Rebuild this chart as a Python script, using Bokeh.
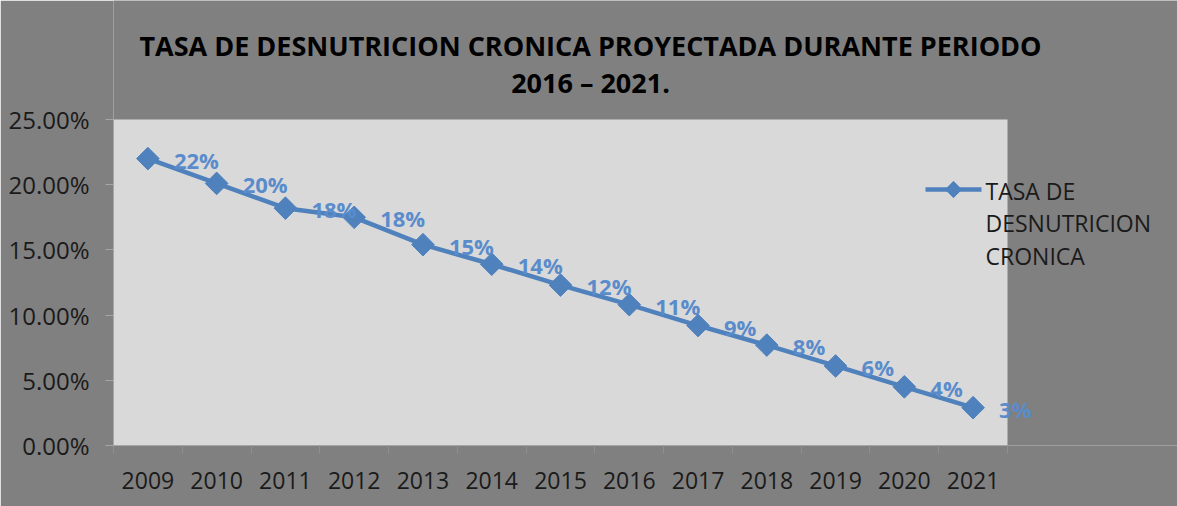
from bokeh.plotting import figure
from bokeh.models import (ColumnDataSource, Label, NumeralTickFormatter,
                          FixedTicker, Range1d, LabelSet, BoxAnnotation)
from bokeh.core.properties import value
from bokeh.embed import file_html
from bokeh.resources import INLINE
import math

years = ["2009", "2010", "2011", "2012", "2013", "2014", "2015", "2016", "2017", "2018", "2019", "2020", "2021"]
rates = [0.220, 0.201, 0.182, 0.175, 0.154, 0.139, 0.123, 0.108, 0.092, 0.077, 0.061, 0.045, 0.029]
point_labels = ["22%", "20%", "18%", "18%", "15%", "14%", "12%", "11%", "9%", "8%", "6%", "4%", "3%"]
y_ticks = [0.0, 0.05, 0.10, 0.15, 0.20, 0.25]
series_lines = ["TASA DE", "DESNUTRICION", "CRONICA"]
title_lines = ["TASA DE DESNUTRICION CRONICA PROYECTADA DURANTE PERIODO", "2016 \u2013 2021."]

BLUE = "#4f81bd"
FONT = "Open Sans"
OUTER = "#808080"
INNER = "#d9d9d9"

# layout (figure pixels)
W, H = 1177, 506
PA_LEFT, PA_RIGHT, PA_TOP, PA_BOTTOM = 113, 1007, 119, 445   # plot area box
Y_MAX = 0.25
n = len(years)
cat_px = (PA_RIGHT - PA_LEFT) / n
y_px = (PA_BOTTOM - PA_TOP) / Y_MAX

xs = list(range(n))
src = ColumnDataSource(dict(x=xs, y=rates, lab=point_labels))

x_end = -0.5 + (W - PA_LEFT) / cat_px
y_end = Y_MAX + PA_TOP / y_px

p = figure(x_range=Range1d(-0.5, x_end), y_range=Range1d(0, y_end), width=W, height=H,
           output_backend="svg", toolbar_location=None,
           min_border_left=PA_LEFT, min_border_right=0, min_border_top=0,
           min_border_bottom=H - PA_BOTTOM)
p.background_fill_color = OUTER
p.border_fill_color = OUTER
p.outline_line_color = None
p.xgrid.grid_line_color = None
p.ygrid.grid_line_color = None

# pixel ranges (frame pixels) for the legend key
p.extra_x_ranges = {"px": Range1d(0, W - PA_LEFT)}
p.extra_y_ranges = {"px": Range1d(0, PA_BOTTOM)}

p.add_layout(BoxAnnotation(left=-0.5, right=n - 0.5, bottom=0, top=Y_MAX,
                           fill_color=INNER, fill_alpha=1, line_color=None, level="underlay"))

p.yaxis.ticker = FixedTicker(ticks=y_ticks)
p.yaxis.formatter = NumeralTickFormatter(format="0.00%")
p.yaxis.bounds = (0, Y_MAX)
p.xaxis.ticker = FixedTicker(ticks=xs, minor_ticks=[i - 0.5 for i in range(n + 1)])
p.xaxis.major_label_overrides = {i: y for i, y in enumerate(years)}
p.xaxis.bounds = (-0.5, n - 0.5)
for ax in (p.xaxis, p.yaxis):
    ax.axis_line_color = "#a6a6a6"
    ax.major_tick_line_color = "#a6a6a6"
    ax.major_label_text_font = FONT
    ax.major_label_text_color = "#1a1a1a"
p.xaxis.major_label_text_font_size = "23px"
p.yaxis.major_label_text_font_size = "24px"
p.yaxis.minor_tick_line_color = None
p.yaxis.major_tick_out = 8
p.yaxis.major_tick_in = 0
p.yaxis.major_label_standoff = 16
p.xaxis.major_tick_out = 0
p.xaxis.major_tick_in = 0
p.xaxis.minor_tick_line_color = "#8f8f8f"
p.xaxis.minor_tick_out = 8
p.xaxis.minor_tick_in = 0
p.xaxis.major_label_standoff = 18

line = p.line("x", "y", source=src, line_color=BLUE, line_width=4.5)
marks = p.scatter("x", "y", source=src, marker="square", angle=math.pi / 4, size=16,
                  fill_color=BLUE, line_color=BLUE)

labels = LabelSet(x="x", y="y", text="lab", source=src, x_offset=26, y_offset=-1,
                  text_font=value(FONT), text_font_size="22px", text_font_style="bold",
                  text_color="#5a8ccc", text_baseline="middle", text_align="left")
p.add_layout(labels)

# legend: key (line + diamond) and three-line text
KEY_X0, KEY_X1, KEY_Y = 925 - PA_LEFT, 981 - PA_LEFT, PA_BOTTOM - 189
p.line(x=[KEY_X0, KEY_X1], y=[KEY_Y, KEY_Y], x_range_name="px", y_range_name="px",
       line_color=BLUE, line_width=4.5)
p.scatter(x=[(KEY_X0 + KEY_X1) / 2], y=[KEY_Y], x_range_name="px", y_range_name="px",
          marker="square", angle=math.pi / 4, size=11.5, fill_color=BLUE, line_color=BLUE)

for i, t in enumerate(series_lines):
    p.add_layout(Label(x=985 - PA_LEFT, y=PA_BOTTOM - 190 - 32.5 * i, x_units="screen", y_units="screen",
                       text=t, text_font=FONT, text_font_size="23px", text_color="#1a1a1a",
                       text_align="left", text_baseline="middle"))

for i, t in enumerate(title_lines):
    p.add_layout(Label(x=590 - PA_LEFT, y=PA_BOTTOM - 45 - 37 * i, x_units="screen", y_units="screen",
                       text=t, text_font=FONT, text_font_size="27px", text_font_style="bold",
                       text_color="#000000", text_align="center", text_baseline="middle"))

open("out.html", "w").write(file_html(p, INLINE))
